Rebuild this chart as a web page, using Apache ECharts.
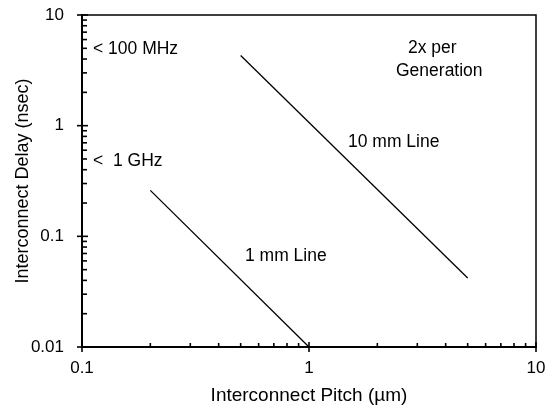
<!DOCTYPE html>
<html>
<head>
<meta charset="utf-8">
<script src="https://cdn.jsdelivr.net/npm/echarts@6/dist/echarts.min.js"></script>
<style>
html,body{margin:0;padding:0;background:#fff;}
#c{width:555px;height:411px;}
</style>
</head>
<body>
<div id="c"></div>
<script>
// ---- data ----
const pitch1mm = [0.2, 1];
const delay1mm = [0.26, 0.01];
const pitch10mm = [0.5, 5];
const delay10mm = [4.3, 0.042];

const xTickValues = [0.1, 1, 10];
const xTickLabels = ['0.1', '1', '10'];
const yTickValues = [0.01, 0.1, 1, 10];
const yTickLabels = ['0.01', '0.1', '1', '10'];

const xMinorTicks = [0.2,0.3,0.4,0.5,0.6,0.7,0.8,0.9,2,3,4,5,6,7,8,9];
const yMinorTicks = [0.02,0.03,0.04,0.05,0.06,0.07,0.08,0.09,0.2,0.3,0.4,0.5,0.6,0.7,0.8,0.9,2,3,4,5,6,7,8,9];

const xName = 'Interconnect Pitch (\u00b5m)';
const yName = 'Interconnect Delay (nsec)';

// ---- build ----
const FONT = "'Liberation Sans', Arial, Helvetica, sans-serif";
const X_MIN = xTickValues[0], Y_MIN = yTickValues[0];

function lookup(vals, labels, v){
  let best = 0, bd = Infinity;
  vals.forEach((t,i)=>{ const d = Math.abs(Math.log10(t) - Math.log10(v)); if(d<bd){bd=d;best=i;} });
  return bd < 1e-6 ? labels[best] : '';
}

// tick data: [x, y, kind]  kind: 0 x-major, 1 x-minor, 2 y-major, 3 y-minor
const tickData = [];
xTickValues.forEach(v=>tickData.push([v, Y_MIN, 0]));
xMinorTicks.forEach(v=>tickData.push([v, Y_MIN, 1]));
yTickValues.forEach(v=>tickData.push([X_MIN, v, 2]));
yMinorTicks.forEach(v=>tickData.push([X_MIN, v, 3]));

function renderTick(params, api){
  const kind = api.value(2);
  const p = api.coord([api.value(0), api.value(1)]);
  let shape;
  if (kind === 0) shape = {x1:p[0], y1:p[1]-5, x2:p[0], y2:p[1]+5};
  else if (kind === 1) shape = {x1:p[0], y1:p[1]-4, x2:p[0], y2:p[1]};
  else if (kind === 2) shape = {x1:p[0]-5, y1:p[1], x2:p[0]+6, y2:p[1]};
  else shape = {x1:p[0], y1:p[1], x2:p[0]+5, y2:p[1]};
  return {type:'line', shape, style:{stroke:'#000', lineWidth:1.6}};
}

const ANN = '17.5px ' + FONT;

const chart = echarts.init(document.getElementById('c'), null, {renderer:'canvas'});
chart.setOption({
  animation:false,
  backgroundColor:'#fff',
  grid:{left:82, right:19, top:15, bottom:64, show:true, borderColor:'#000', borderWidth:1.5, backgroundColor:'transparent'},
  xAxis:{
    type:'log', logBase:10, min:xTickValues[0], max:xTickValues[xTickValues.length-1],
    name:xName, nameLocation:'middle', nameGap:39, nameMoveOverlap:false,
    nameTextStyle:{fontFamily:FONT, fontSize:19, color:'#000'},
    axisLine:{show:true, lineStyle:{color:'#000', width:2}},
    axisTick:{show:false},
    splitLine:{show:false},
    minorTick:{show:false},
    axisLabel:{margin:13, fontFamily:FONT, fontSize:17, color:'#000',
      formatter:v=>lookup(xTickValues, xTickLabels, v)}
  },
  yAxis:{
    type:'log', logBase:10, min:yTickValues[0], max:yTickValues[yTickValues.length-1],
    name:yName, nameLocation:'middle', nameGap:50, nameMoveOverlap:false,
    nameTextStyle:{fontFamily:FONT, fontSize:18, color:'#000'},
    axisLine:{show:true, lineStyle:{color:'#000', width:2}},
    axisTick:{show:false},
    splitLine:{show:false},
    axisLabel:{margin:18, fontFamily:FONT, fontSize:17, color:'#000',
      formatter:v=>lookup(yTickValues, yTickLabels, v)}
  },
  graphic:[
    {type:'text', left:93, top:40, style:{text:'< 100 MHz', font:ANN, fill:'#000'}},
    {type:'text', left:93, top:152, style:{text:'<  1 GHz', font:ANN, fill:'#000'}},
    {type:'text', left:408, top:39, style:{text:'2x per', font:ANN, fill:'#000'}},
    {type:'text', left:396, top:62, style:{text:'Generation', font:ANN, fill:'#000'}},
    {type:'text', left:348, top:133, style:{text:'10 mm Line', font:ANN, fill:'#000'}},
    {type:'text', left:245, top:247, style:{text:'1 mm Line', font:ANN, fill:'#000'}}
  ],
  series:[
    {type:'line', name:'1 mm Line', data:pitch1mm.map((x,i)=>[x, delay1mm[i]]), symbol:'none',
     lineStyle:{color:'#000', width:1.3}, silent:true},
    {type:'line', name:'10 mm Line', data:pitch10mm.map((x,i)=>[x, delay10mm[i]]), symbol:'none',
     lineStyle:{color:'#000', width:1.3}, silent:true},
    {type:'custom', coordinateSystem:'cartesian2d', data:tickData, renderItem:renderTick,
     silent:true, clip:false, z:5}
  ]
});
</script>
</body>
</html>
